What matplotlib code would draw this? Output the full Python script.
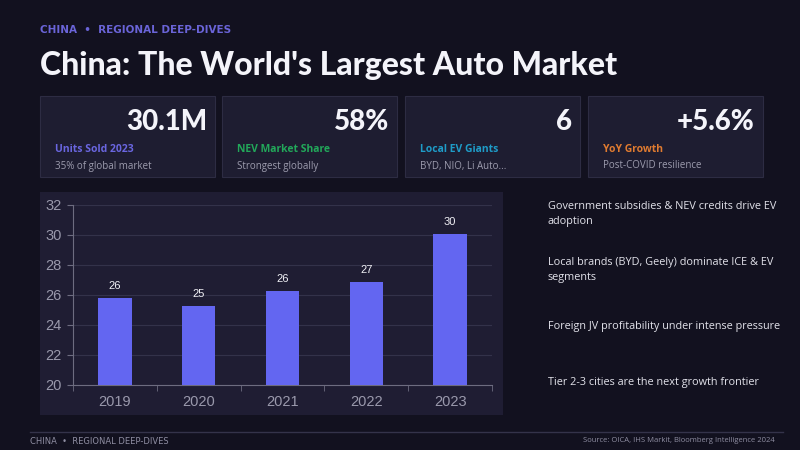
import matplotlib
matplotlib.use("Agg")
import matplotlib.pyplot as plt
from matplotlib.patches import Rectangle

# data
years = ["2019", "2020", "2021", "2022", "2023"]
units = [25.8, 25.3, 26.3, 26.9, 30.1]

card_values = ["30.1M", "58%", "6", "+5.6%"]
card_titles = ["Units Sold 2023", "NEV Market Share", "Local EV Giants", "YoY Growth"]
card_notes = ["35% of global market", "Strongest globally", "BYD, NIO, Li Auto...", "Post-COVID resilience"]
card_colors = ["#6a66e0", "#22a85a", "#1e9cc8", "#e07b30"]

bullets = [
    "Government subsidies & NEV credits drive EV\nadoption",
    "Local brands (BYD, Geely) dominate ICE & EV\nsegments",
    "Foreign JV profitability under intense pressure",
    "Tier 2-3 cities are the next growth frontier",
]

bg = "#12111f"
card_bg = "#1e1d31"
edge = "#2d2c43"

fig = plt.figure(figsize=(8, 4.5), dpi=100)
fig.patch.set_facecolor(bg)

# page layer in pixel coords
page = fig.add_axes([0, 0, 1, 1], zorder=0)
page.set_xlim(0, 800)
page.set_ylim(450, 0)
page.axis("off")

page.text(40, 30, "CHINA  \u2022  REGIONAL DEEP-DIVES", color="#6a64d8", fontsize=7.5,
          fontweight="bold", family="DejaVu Sans", va="center", ha="left")
page.text(40, 65, "China: The World's Largest Auto Market", color="#f4f4fa", fontsize=23,
          fontweight=900, family="Lato", va="center", ha="left")

# kpi cards
card_x = [40, 222, 405, 588]
for i in range(4):
    x0 = card_x[i]
    page.add_patch(Rectangle((x0, 96), 175, 81, facecolor=card_bg, edgecolor=edge, lw=0.8))
    page.text(x0 + 167, 122, card_values[i], color="#f4f4fa", fontsize=20, fontweight=900,
              family="Lato", ha="right", va="center")
    page.text(x0 + 15, 150, card_titles[i], color=card_colors[i], fontsize=7.5,
              fontweight="bold", family="Open Sans", ha="left", va="center")
    page.text(x0 + 15, 166, card_notes[i], color="#9d9cae", fontsize=7,
              family="Open Sans", ha="left", va="center")

# chart panel
page.add_patch(Rectangle((40, 192), 463, 223, facecolor="#1f1d33", edgecolor="none"))

# bullets
bullet_y = [214, 270, 327, 382]
for t, y in zip(bullets, bullet_y):
    page.text(548, y, t, color="#e2e2ea", fontsize=7.8, family="Open Sans",
              ha="left", va="center", linespacing=1.6)

# footer
page.plot([30, 783], [432, 432], color="#34334a", lw=1)
page.text(30, 441, "CHINA  \u2022  REGIONAL DEEP-DIVES", color="#8f8ea2", fontsize=6,
          family="DejaVu Sans", ha="left", va="center")
page.text(775, 441, "Source: OICA, IHS Markit, Bloomberg Intelligence 2024", color="#8f8ea2",
          fontsize=5.5, family="Open Sans", ha="right", va="center")

# bar chart
ax = fig.add_axes([73 / 800, 1 - 385 / 450, (492 - 73) / 800, 180 / 450], zorder=2)
ax.patch.set_alpha(0)
pos = list(range(len(years)))
ax.bar(pos, units, width=0.4, color="#6366f1", zorder=3)
for p, v in zip(pos, units):
    ax.text(p, v + 0.45, f"{v:.0f}", color="#f0f0f5", fontsize=8, family="Liberation Sans",
            ha="center", va="bottom")

ax.set_xlim(-0.5, 4.5)
ax.set_ylim(20, 32)
ax.set_yticks([20, 22, 24, 26, 28, 30, 32])
ax.set_xticks(pos)
ax.set_xticklabels(years)
ax.set_xticks([p - 0.5 for p in pos] + [4.5], minor=True)
ax.tick_params(axis="x", which="major", length=0, pad=7, labelsize=10.5, labelcolor="#9a99ac")
ax.tick_params(axis="x", which="minor", length=4, color="#6d6c80", direction="out")
ax.tick_params(axis="y", length=4, color="#6d6c80", pad=4, labelsize=10.5, labelcolor="#9a99ac")
for lab in ax.get_xticklabels() + ax.get_yticklabels():
    lab.set_family("Liberation Sans")
ax.grid(axis="y", color="#33324a", lw=0.8, zorder=0)
for s in ["top", "right"]:
    ax.spines[s].set_visible(False)
for s in ["left", "bottom"]:
    ax.spines[s].set_color("#6d6c80")
    ax.spines[s].set_linewidth(0.8)

fig.savefig("out.png", dpi=100, facecolor=bg)
